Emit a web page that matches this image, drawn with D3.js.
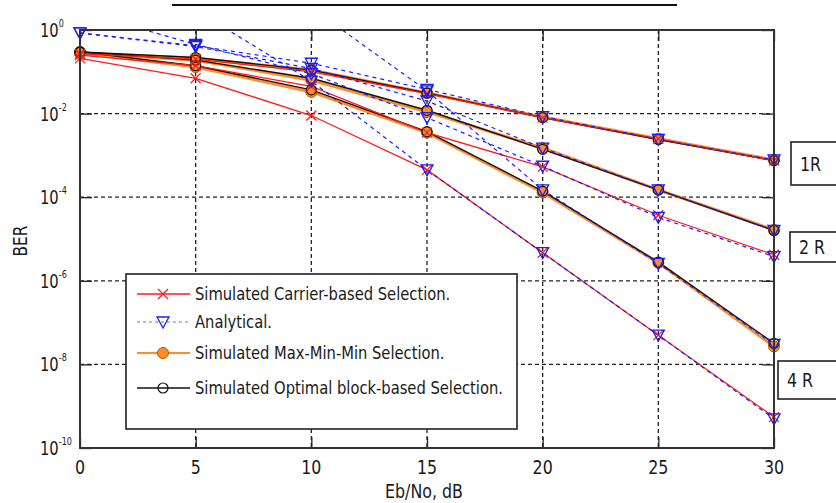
<!DOCTYPE html>
<html>
<head>
<meta charset="utf-8">
<script src="https://cdn.jsdelivr.net/npm/d3@7"></script>
<style>
body { margin: 0; background: #fff; }
text { font-family: "DejaVu Sans Condensed", "Liberation Sans Narrow", sans-serif; fill: #1a1a1a; }
</style>
</head>
<body>
<div id="chart"></div>
<script>
// Eb/No points (dB)
var snr = [0, 5, 10, 15, 20, 25, 30]
var xTicks = [0, 5, 10, 15, 20, 25, 30]
var yTickExp = [0, -2, -4, -6, -8, -10]

// simulated carrier-based selection (red)
var carrier1R = [0.27, 0.2, 0.1, 0.03, 8e-3, 2.5e-3, 7.5e-4]
var carrier2R = [0.25, 0.14, 0.045, 3.5e-3, 5.3e-4, 3.7e-5, 4.2e-6]
var carrier4R = [0.21, 0.07, 9e-3, 4.5e-4, 4.7e-6, 5e-8, 5.5e-10]

// simulated max-min-min selection (orange)
var maxmin1R = [0.28, 0.21, 0.11, 0.031, 8.3e-3, 2.5e-3, 7.8e-4]
var maxmin2R = [0.28, 0.19, 0.063, 0.011, 1.5e-3, 1.5e-4, 1.65e-5]
var maxmin4R = [0.28, 0.13, 0.033, 3.5e-3, 1.3e-4, 2.7e-6, 2.7e-8]

// simulated optimal block-based selection (black)
var optimal1R = [0.3, 0.22, 0.11, 0.031, 8e-3, 2.4e-3, 7.5e-4]
var optimal2R = [0.3, 0.19, 0.07, 0.012, 1.4e-3, 1.5e-4, 1.6e-5]
var optimal4R = [0.3, 0.14, 0.037, 3.7e-3, 1.4e-4, 2.8e-6, 3.2e-8]

// analytical (blue dashed), values above 1 get clipped by the frame
var anal1R = [0.85, 0.42, 0.16, 0.038, 8.5e-3, 2.4e-3, 7.8e-4]
var anal2Ropt = [0.85, 0.4, 0.12, 0.02, 1.5e-3, 1.5e-4, 1.6e-5]
var anal2Rcar = [2.8, 0.45, 0.09, 8e-3, 5.5e-4, 3.3e-5, 3.8e-6]
var anal4Ropt = [20, 8, 3.4, 0.035, 1.5e-4, 2.6e-6, 3e-8]
var anal4Rcar = [10, 3, 0.06, 4.5e-4, 4.7e-6, 5e-8, 5e-10]

var legendNames = ["Simulated Carrier-based Selection.", "Analytical.", "Simulated Max-Min-Min Selection.", "Simulated Optimal block-based Selection."]
var sideLabels = ["1R", "2 R", "4 R"]

var width = 836, height = 503
var orange = "#ff8c2a"

var svg = d3.select("#chart").append("svg")
  .attr("width", width)
  .attr("height", height)

var x = d3.scaleLinear().domain([0, 30]).range([80, 774])
var y = d3.scaleLog().domain([1e-10, 1]).range([448, 30])
var yTicks = yTickExp.map(function (e) { return Math.pow(10, e) })

// narrow-looking text: squeeze horizontally a bit
function label(g, tx, ty, str, size, anchor, sx) {
  return g.append("text")
    .attr("transform", "translate(" + tx + "," + ty + ") scale(" + (sx || 0.88) + ",1)")
    .attr("text-anchor", anchor || "start")
    .style("font-size", size + "px")
    .text(str)
}

// leftover line of a cropped title
svg.append("line").attr("x1", 172).attr("x2", 677).attr("y1", 5).attr("y2", 5)
  .attr("stroke", "#111").attr("stroke-width", 2)

svg.append("clipPath").attr("id", "plotclip")
  .append("rect").attr("x", 80).attr("y", 30).attr("width", 694).attr("height", 418)

// grid
var grid = svg.append("g")
grid.selectAll(".vg").data(xTicks.slice(1, -1)).enter().append("line")
  .attr("x1", function (d) { return x(d) }).attr("x2", function (d) { return x(d) })
  .attr("y1", 30).attr("y2", 448)
  .attr("stroke", "#222").attr("stroke-width", 1.3).attr("stroke-dasharray", "4,3")
grid.selectAll(".hg").data(yTicks.slice(1, -1)).enter().append("line")
  .attr("x1", 80).attr("x2", 774)
  .attr("y1", function (d) { return y(d) }).attr("y2", function (d) { return y(d) })
  .attr("stroke", "#222").attr("stroke-width", 1.3).attr("stroke-dasharray", "4,3")

// axes with inward ticks
svg.append("g").attr("transform", "translate(0,448)")
  .call(d3.axisBottom(x).tickValues(xTicks).tickSize(-11).tickFormat(""))
svg.append("g").attr("transform", "translate(0,30)")
  .call(d3.axisTop(x).tickValues(xTicks).tickSize(-11).tickFormat(""))
svg.append("g").attr("transform", "translate(80,0)")
  .call(d3.axisLeft(y).tickValues(yTicks).tickSize(-12).tickFormat(""))
svg.append("g").attr("transform", "translate(774,0)")
  .call(d3.axisRight(y).tickValues(yTicks).tickSize(-12).tickFormat(""))
svg.selectAll(".domain").remove()
svg.selectAll(".tick line").attr("stroke", "#222").attr("stroke-width", 1.3)

var tl = svg.append("g")
xTicks.forEach(function (t) { label(tl, x(t), 474, t, 20, "middle") })

// y tick labels as 10^e
yTickExp.forEach(function (e) {
  var t = label(tl, 40, y(Math.pow(10, e)) + 7, "", 20, "start", 0.82)
  t.append("tspan").text("10")
  t.append("tspan").attr("dy", -10).style("font-size", "11px").text(e)
})

// series
var line = d3.line()
  .x(function (d) { return x(d[0]) })
  .y(function (d) { return y(d[1]) })

var plot = svg.append("g").attr("clip-path", "url(#plotclip)")
var marks = svg.append("g")

function pts(vals) {
  return snr.map(function (s, i) { return [s, vals[i]] })
}
function inside(d) { return d[1] <= 1 && d[1] >= 1e-10 }

function drawLine(vals, color, w, dash) {
  plot.append("path").datum(pts(vals))
    .attr("d", line).attr("fill", "none")
    .attr("stroke", color).attr("stroke-width", w)
    .attr("stroke-dasharray", dash || null)
}

function markerX(g, cx, cy, color) {
  var s = 5
  g.append("path").attr("d", "M" + (cx - s) + "," + (cy - s) + "L" + (cx + s) + "," + (cy + s) + "M" + (cx - s) + "," + (cy + s) + "L" + (cx + s) + "," + (cy - s))
    .attr("stroke", color).attr("stroke-width", 1.2).attr("fill", "none")
}
function markerTri(g, cx, cy, color) {
  g.append("path").attr("d", "M" + (cx - 6) + "," + (cy - 5) + "L" + (cx + 6) + "," + (cy - 5) + "L" + cx + "," + (cy + 6) + "Z")
    .attr("stroke", color).attr("stroke-width", 1.3).attr("fill", "none")
}
function markerDot(g, cx, cy) {
  g.append("circle").attr("cx", cx).attr("cy", cy).attr("r", 5.5)
    .attr("fill", orange).attr("stroke", "#b35a00").attr("stroke-width", 1)
}
function markerO(g, cx, cy) {
  g.append("circle").attr("cx", cx).attr("cy", cy).attr("r", 5)
    .attr("fill", "none").attr("stroke", "#111").attr("stroke-width", 1.2)
}

function drawMarkers(vals, fn, color) {
  pts(vals).filter(inside).forEach(function (d) { fn(marks, x(d[0]), y(d[1]), color) })
}

var maxminAll = [maxmin1R, maxmin2R, maxmin4R]
var optimalAll = [optimal1R, optimal2R, optimal4R]
var carrierAll = [carrier1R, carrier2R, carrier4R]
var analAll = [anal1R, anal2Ropt, anal2Rcar, anal4Ropt, anal4Rcar]

maxminAll.forEach(function (v) { drawLine(v, orange, 3) })
optimalAll.forEach(function (v) { drawLine(v, "#111", 1.4) })
carrierAll.forEach(function (v) { drawLine(v, "#ff1a1a", 1.3) })
analAll.forEach(function (v) { drawLine(v, "#1a1aff", 1.2, "4,4") })

maxminAll.forEach(function (v) { drawMarkers(v, markerDot) })
optimalAll.forEach(function (v) { drawMarkers(v, markerO) })
carrierAll.forEach(function (v) { drawMarkers(v, markerX, "#ff1a1a") })
analAll.forEach(function (v) { drawMarkers(v, markerTri, "#1a1aff") })

// frame
svg.append("rect").attr("x", 80).attr("y", 30).attr("width", 694).attr("height", 418)
  .attr("fill", "none").attr("stroke", "#333").attr("stroke-width", 2)

// axis labels
label(svg, 424, 498, "Eb/No, dB", 20, "middle")
svg.append("text").attr("transform", "translate(27,241) rotate(-90) scale(0.9,1)").attr("text-anchor", "middle")
  .style("font-size", "19px").text("BER")

// legend
var lg = svg.append("g")
lg.append("rect").attr("x", 126).attr("y", 274).attr("width", 391).attr("height", 155)
  .attr("fill", "#fff").attr("stroke", "#222").attr("stroke-width", 1.6)
var rowY = [294, 322, 353, 388]
var legendStyle = [
  { color: "#ff1a1a", w: 1.3, dash: null, mk: markerX },
  { color: "#6a6aff", w: 1.2, dash: "3,3", mk: markerTri },
  { color: orange, w: 2, dash: null, mk: markerDot },
  { color: "#111", w: 1.3, dash: null, mk: markerO }
]
legendNames.forEach(function (name, i) {
  var st = legendStyle[i]
  lg.append("line").attr("x1", 137).attr("x2", 190).attr("y1", rowY[i]).attr("y2", rowY[i])
    .attr("stroke", st.color).attr("stroke-width", st.w).attr("stroke-dasharray", st.dash)
  st.mk(lg, 163, rowY[i], i == 1 ? "#1a1aff" : st.color)
  label(lg, 195, rowY[i] + 6, name, 18, "start", 0.91)
})

// side boxes
var boxes = [
  { x: 791, y: 142, h: 43 },
  { x: 790, y: 232, h: 30 },
  { x: 778, y: 361, h: 38 }
]
sideLabels.forEach(function (lab, i) {
  var b = boxes[i]
  svg.append("rect").attr("x", b.x).attr("y", b.y).attr("width", 70).attr("height", b.h)
    .attr("fill", "#fff").attr("stroke", "#222").attr("stroke-width", 1.6)
  label(svg, b.x + 9, b.y + b.h / 2 + 7, lab, 20)
})
</script>
</body>
</html>
